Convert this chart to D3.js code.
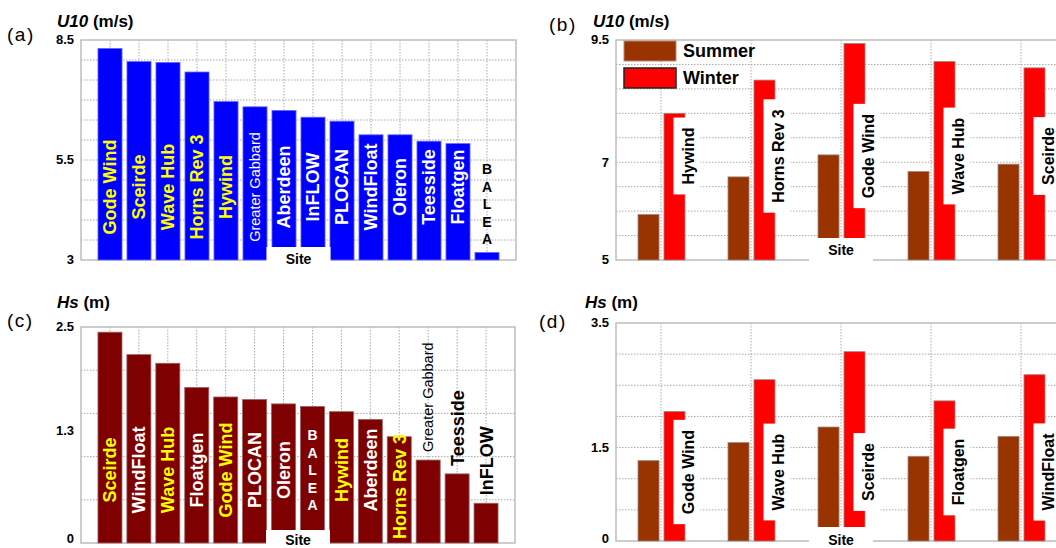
<!DOCTYPE html>
<html>
<head>
<meta charset="utf-8">
<script src="https://cdn.jsdelivr.net/npm/d3@7"></script>
<style>
  body { margin: 0; background: #fff; }
  svg text { font-family: "Liberation Sans", Arial, sans-serif; }
</style>
</head>
<body>
<svg id="chart" width="1056" height="548"></svg>
<script>
// (a) mean U10 per site, ranked
var sitesA = ["Gode Wind", "Sceirde", "Wave Hub", "Horns Rev 3", "Hywind", "Greater Gabbard", "Aberdeen",
              "InFLOW", "PLOCAN", "WindFloat", "Oleron", "Teesside", "Floatgen", "BALEA"];
var u10A = [8.29, 7.96, 7.94, 7.70, 6.96, 6.83, 6.74, 6.57, 6.47, 6.13, 6.13, 5.97, 5.91, 3.19];
var ticksA = [3, 5.5, 8.5];

// (b) U10 summer / winter for the top sites
var sitesB = ["Hywind", "Horns Rev 3", "Gode Wind", "Wave Hub", "Sceirde"];
var u10Summer = [5.93, 6.70, 7.15, 6.81, 6.96];
var u10Winter = [8.00, 8.68, 9.43, 9.06, 8.93];
var ticksB = [5, 7, 9.5];

// (c) mean Hs per site, ranked
var sitesC = ["Sceirde", "WindFloat", "Wave Hub", "Floatgen", "Gode Wind", "PLOCAN", "Oleron", "BALEA",
              "Hywind", "Aberdeen", "Horns Rev 3", "Greater Gabbard", "Teesside", "InFLOW"];
var hsC = [2.44, 2.18, 2.08, 1.80, 1.69, 1.66, 1.61, 1.58, 1.52, 1.43, 1.23, 0.96, 0.80, 0.46];
var ticksC = [0, 1.3, 2.5];

// (d) Hs summer / winter
var sitesD = ["Gode Wind", "Wave Hub", "Sceirde", "Floatgen", "WindFloat"];
var hsSummer = [1.29, 1.58, 1.83, 1.36, 1.68];
var hsWinter = [2.08, 2.59, 3.04, 2.25, 2.67];
var ticksD = [0, 1.5, 3.5];

var seasons = ["Summer", "Winter"];
var seasonColor = { Summer: "#993300", Winter: "#ff0000" };

// label styling: the (b) sites are printed in yellow in the ranking panels
var highlight = sitesB;
var stacked = ["BALEA"];
var thin = ["Greater Gabbard"];

var svg = d3.select("#chart");

function grid(g, y, x0, x1, xs) {
    var d = y.domain();
    var hs = d3.range(d[0] + 0.5, d[1] - 0.01, 0.5);
    g.selectAll(null).data(hs).enter().append("line")
        .attr("x1", x0).attr("x2", x1)
        .attr("y1", function (v) { return y(v); }).attr("y2", function (v) { return y(v); })
        .attr("stroke", "#a8a8a8").attr("stroke-dasharray", "1.5,1.5");
    g.selectAll(null).data(xs).enter().append("line")
        .attr("x1", function (v) { return v; }).attr("x2", function (v) { return v; })
        .attr("y1", y.range()[1]).attr("y2", y.range()[0])
        .attr("stroke", "#a8a8a8").attr("stroke-dasharray", "1.5,1.5");
    g.append("rect")
        .attr("x", x0).attr("y", y.range()[1])
        .attr("width", x1 - x0).attr("height", y.range()[0] - y.range()[1])
        .attr("fill", "none").attr("stroke", "#bdbdbd").attr("stroke-width", 1.5);
}

function decorate(g, p, y) {
    // tick labels (kept clear of the page bottom)
    g.selectAll(null).data(p.ticks).enter().append("text")
        .attr("x", p.x0 - 7).attr("y", function (v) { return Math.min(y(v), 539); })
        .attr("dy", "0.33em").attr("text-anchor", "end")
        .style("font-size", "13px").style("font-weight", "bold")
        .text(function (v) { return v; });

    // title
    var t = g.append("text").attr("x", p.titleX).attr("y", p.titleY)
        .style("font-size", "17px").style("font-weight", "bold");
    t.append("tspan").style("font-style", "italic").text(p.varName);
    t.append("tspan").text(" " + p.unit);

    g.append("text").attr("x", p.letterX).attr("y", p.letterY)
        .style("font-size", "19px").style("letter-spacing", "1.5px")
        .text(p.letter);

    // "Site" label sitting on a white patch
    var cx = (p.x0 + p.x1c) / 2;
    g.append("rect").attr("x", cx - 32).attr("y", p.bottom - p.siteTop)
        .attr("width", 64).attr("height", p.siteTop + 8).attr("fill", "#fff");
    g.append("text").attr("x", cx).attr("y", p.bottom + p.siteDy)
        .attr("text-anchor", "middle")
        .style("font-size", "14px").style("font-weight", "bold")
        .text("Site");
}

function rankPanel(p) {
    var g = svg.append("g");
    var x = d3.scaleBand().domain(p.sites)
        .range([p.x0 + 14.5, p.x1 - 14.5])
        .paddingInner(0.17).paddingOuter(0.085);
    var y = d3.scaleLinear().domain(p.domain).range([p.bottom, p.top]);
    var bw = x.bandwidth();

    grid(g, y, p.x0, p.x1, p.sites.map(function (s) { return x(s) + bw / 2; }));

    g.selectAll(null).data(p.sites).enter().append("rect")
        .attr("x", function (d) { return x(d); })
        .attr("width", bw)
        .attr("y", function (d, i) { return y(p.values[i]); })
        .attr("height", function (d, i) { return p.bottom - y(p.values[i]); })
        .attr("fill", p.fill).attr("stroke", p.stroke).attr("stroke-width", 0.8);

    p.sites.forEach(function (s, i) {
        var cx = x(s) + bw / 2,
            top = y(p.values[i]),
            h = p.bottom - top,
            inside = h > 100;

        if (stacked.indexOf(s) >= 0) {
            var letters = s.split(""), step = 17.5,
                span = step * (letters.length - 1);
            inside = h > span + 40;
            var c = inside ? p.bottom - 73 : top - 13 - span / 2;
            letters.forEach(function (ch, k) {
                g.append("text").attr("x", cx).attr("y", c - span / 2 + k * step)
                    .attr("dy", "0.36em").attr("text-anchor", "middle")
                    .style("font-size", "14px").style("font-weight", "bold")
                    .attr("fill", inside ? "#fff" : "#000")
                    .text(ch);
            });
            return;
        }

        var isThin = thin.indexOf(s) >= 0;
        var t = g.append("text").attr("text-anchor", "middle").attr("dy", "0.36em")
            .style("font-size", isThin ? "14.5px" : "18px")
            .style("font-weight", isThin ? "normal" : "bold")
            .text(s);
        var len = t.node().getComputedTextLength();
        var cy;
        if (inside) {
            cy = Math.max(p.bottom - 73, top + 6 + len / 2);
            cy = Math.min(cy, p.bottom - 4 - len / 2);
        } else {
            cy = top - 8 - len / 2;
        }
        t.attr("transform", "translate(" + cx + "," + cy + ") rotate(-90)")
            .attr("fill", !inside ? "#000" : (highlight.indexOf(s) >= 0 ? "#ffff00" : "#fff"));
    });

    p.x1c = p.x1;
    decorate(g, p, y);
}

function seasonPanel(p) {
    var g = svg.append("g");
    var x = d3.scaleBand().domain(p.sites).range([p.x0, p.x0 + 90 * p.sites.length]);
    var s = d3.scaleBand().domain(seasons).range([-23, 24]).paddingInner(0.19);
    var y = d3.scaleLinear().domain(p.domain).range([p.bottom, p.top]);
    var bw = s.bandwidth();
    var centre = function (d) { return x(d) + x.bandwidth() / 2; };

    grid(g, y, p.x0, x.range()[1], p.sites.map(centre));

    seasons.forEach(function (season, k) {
        var vals = p.values[k];
        g.selectAll(null).data(p.sites).enter().append("rect")
            .attr("x", function (d) { return centre(d) + s(season); })
            .attr("width", bw)
            .attr("y", function (d, i) { return y(vals[i]); })
            .attr("height", function (d, i) { return p.bottom - y(vals[i]); })
            .attr("fill", seasonColor[season])
            .attr("stroke", "#9a8a84").attr("stroke-width", 0.8);
    });

    // site names on a white tab over the winter bar
    p.sites.forEach(function (d) {
        var wx = centre(d) + s("Winter");
        var t = g.append("text").attr("text-anchor", "middle").attr("dy", "0.36em")
            .style("font-size", "16px").style("font-weight", "bold")
            .text(d);
        var len = t.node().getComputedTextLength();
        g.insert("rect", function () { return t.node(); })
            .attr("x", wx + bw / 2 - 1).attr("y", p.labelY - len / 2 - 10)
            .attr("width", 27).attr("height", len + 20)
            .attr("fill", "#fff");
        t.attr("transform", "translate(" + (wx + bw + 3) + "," + p.labelY + ") rotate(-90)");
    });

    if (p.legend) {
        var lg = g.append("g").attr("transform", "translate(" + (p.x0 + 8) + "," + (p.top + 1) + ")");
        seasons.forEach(function (season, k) {
            lg.append("rect").attr("x", 0).attr("y", k * 27)
                .attr("width", 52).attr("height", 20)
                .attr("fill", seasonColor[season])
                .attr("stroke", season === "Winter" ? "#222" : "#b98a70")
                .attr("stroke-width", season === "Winter" ? 1.5 : 1);
            lg.append("text").attr("x", 59).attr("y", k * 27 + 10).attr("dy", "0.36em")
                .style("font-size", "18px").style("font-weight", "bold")
                .text(season);
        });
    }

    p.x1c = x.range()[1];
    decorate(g, p, y);
}

rankPanel({
    sites: sitesA, values: u10A, domain: [3, 8.5], ticks: ticksA,
    x0: 81, x1: 516, top: 40, bottom: 260,
    fill: "#0000ff", stroke: "#6a6aff",
    varName: "U10", unit: "(m/s)", titleX: 57, titleY: 27,
    letter: "(a)", letterX: 7, letterY: 41, siteTop: 13, siteDy: 4
});

seasonPanel({
    sites: sitesB, values: [u10Summer, u10Winter], domain: [5, 9.5], ticks: ticksB,
    x0: 616, top: 40, bottom: 260, labelY: 156, legend: true,
    varName: "U10", unit: "(m/s)", titleX: 593, titleY: 27,
    letter: "(b)", letterX: 549, letterY: 31, siteTop: 22, siteDy: -5
});

rankPanel({
    sites: sitesC, values: hsC, domain: [0, 2.5], ticks: ticksC,
    x0: 81, x1: 515, top: 327, bottom: 543,
    fill: "#7f0000", stroke: "#a06060",
    varName: "Hs", unit: "(m)", titleX: 57, titleY: 308,
    letter: "(c)", letterX: 7, letterY: 327, siteTop: 13, siteDy: 2
});

seasonPanel({
    sites: sitesD, values: [hsSummer, hsWinter], domain: [0, 3.5], ticks: ticksD,
    x0: 616, top: 323, bottom: 541, labelY: 472, legend: false,
    varName: "Hs", unit: "(m)", titleX: 585, titleY: 308,
    letter: "(d)", letterX: 539, letterY: 328, siteTop: 14, siteDy: 4
});
</script>
</body>
</html>
